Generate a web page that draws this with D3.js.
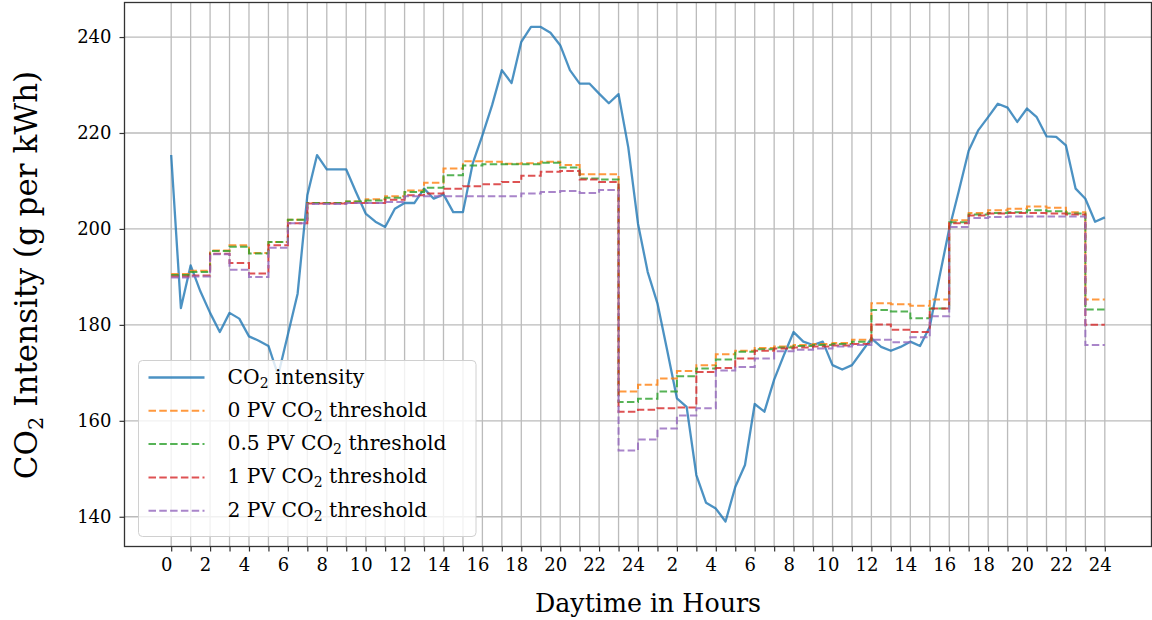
<!DOCTYPE html>
<html>
<head>
<meta charset="utf-8">
<script src="https://cdn.jsdelivr.net/npm/d3@7"></script>
<style>
  body { margin: 0; background: #fff; }
  svg text { font-family: "DejaVu Serif", serif; fill: #000; }
</style>
</head>
<body>
<div id="chart"></div>
<script>
// CO2 intensity, every half hour over two days (0 .. 48 h)
const intensity = [
  215.4, 183.5, 192.4, 187.0, 182.5, 178.5, 182.5, 181.3, 177.6, 176.7,
  175.6, 169.5, 178.0, 186.5, 207.0, 215.4, 212.4, 212.4, 212.4, 207.7,
  203.2, 201.5, 200.4, 204.2, 205.4, 205.4, 208.4, 206.3, 207.2, 203.5,
  203.5, 213.6, 219.5, 225.8, 233.1, 230.4, 239.0, 242.1, 242.1, 240.9,
  238.3, 233.1, 230.3, 230.3, 228.2, 226.2, 228.1, 217.0, 201.1, 191.0,
  184.5, 174.7, 164.7, 162.9, 148.7, 142.9, 141.7, 139.0, 146.2, 150.8,
  163.5, 161.9, 168.6, 173.7, 178.5, 176.5, 175.8, 176.5, 171.6, 170.7,
  171.6, 174.4, 177.2, 175.4, 174.6, 175.4, 176.5, 175.6, 179.6, 190.0,
  200.0, 208.0, 216.3, 220.6, 223.3, 226.1, 225.3, 222.3, 225.1, 223.3,
  219.3, 219.2, 217.4, 208.4, 206.3, 201.5, 202.4
];

// hourly thresholds (hour 0 .. 47), drawn as steps
const pv0 = [
  190.6, 191.3, 195.5, 196.6, 195.0, 197.3, 201.9, 205.4, 205.4, 205.7, 206.2, 206.8,
  208.0, 209.6, 212.6, 214.1, 214.0, 213.6, 213.7, 214.0, 213.3, 211.4, 211.4, 166.1,
  167.5, 168.8, 170.4, 171.6, 173.9, 174.6, 175.2, 175.5, 175.8, 176.0, 176.2, 176.9,
  184.5, 184.3, 184.0, 185.3, 201.8, 203.3, 203.9, 204.2, 204.7, 204.4, 203.5, 185.3
];
const pv05 = [
  190.4, 191.0, 195.4, 196.3, 194.9, 197.3, 201.9, 205.4, 205.4, 205.7, 205.9, 206.5,
  207.7, 208.6, 211.2, 213.2, 213.5, 213.5, 213.5, 213.8, 212.8, 210.5, 210.3, 163.9,
  164.6, 166.1, 169.3, 170.9, 172.8, 174.4, 174.9, 175.3, 175.6, 175.8, 176.0, 176.5,
  183.1, 182.8, 181.4, 183.4, 201.4, 203.0, 203.3, 203.5, 203.9, 203.7, 203.2, 183.2
];
const pv1 = [
  190.1, 190.3, 194.8, 192.9, 190.7, 196.6, 201.2, 205.3, 205.3, 205.4, 205.4, 206.1,
  207.0, 207.4, 208.4, 208.9, 209.3, 209.8, 211.1, 211.9, 212.1, 210.3, 209.8, 161.9,
  162.3, 162.6, 162.8, 170.2, 171.0, 173.0, 174.6, 175.1, 175.3, 175.5, 175.7, 176.0,
  180.1, 179.0, 178.5, 183.4, 201.2, 202.8, 203.2, 203.3, 203.3, 203.2, 203.0, 180.0
];
const pv2 = [
  189.9, 190.1, 194.7, 191.5, 190.0, 196.1, 201.2, 205.2, 205.2, 205.4, 205.4, 205.6,
  206.8, 206.8, 206.8, 206.8, 206.8, 206.8, 207.4, 207.7, 207.9, 207.5, 208.1, 153.8,
  156.1, 158.4, 161.1, 162.6, 170.5, 171.2, 173.0, 174.5, 174.8, 175.1, 175.5, 175.8,
  176.9, 176.4, 177.4, 181.8, 200.4, 202.3, 202.5, 202.6, 202.6, 202.6, 202.6, 175.8
];

const yTicks = [140, 160, 180, 200, 220, 240];

const series = [
  { name: "0 PV", values: pv0, color: "#ff7f0e" },
  { name: "0.5 PV", values: pv05, color: "#2ca02c" },
  { name: "1 PV", values: pv1, color: "#d62728" },
  { name: "2 PV", values: pv2, color: "#9467bd" }
];

const W = 1152, H = 620;
const m = { left: 124.5, right: 1151.5, top: 2.5, bottom: 546.5 };

const svg = d3.select("#chart").append("svg")
  .attr("width", W).attr("height", H);

const x = d3.scaleLinear().domain([-2.4, 50.4]).range([m.left, m.right]);
const y = d3.scaleLinear().domain([133.8, 247.2]).range([m.bottom, m.top]);

// grid
const grid = svg.append("g").attr("stroke", "#b0b0b0").attr("stroke-width", 1.3).attr("opacity", 0.85);
grid.selectAll(".vx").data(d3.range(0, 49)).enter().append("line")
  .attr("x1", d => x(d)).attr("x2", d => x(d))
  .attr("y1", m.top).attr("y2", m.bottom);
grid.selectAll(".hy").data(yTicks).enter().append("line")
  .attr("x1", m.left).attr("x2", m.right)
  .attr("y1", d => y(d)).attr("y2", d => y(d));

// axes
const xAxis = d3.axisBottom(x).tickValues(d3.range(0, 49)).tickSize(5).tickPadding(4)
  .tickFormat(d => (d % 2 === 0 ? String(d === 0 ? 0 : ((d - 1) % 24) + 1) : ""));
const gx = svg.append("g").attr("transform", `translate(0,${m.bottom})`).call(xAxis);
gx.selectAll("text").attr("font-size", 18).attr("dx", -5).attr("dy", "0.85em");

const yAxis = d3.axisLeft(y).tickValues(yTicks).tickSize(5).tickPadding(8);
const gy = svg.append("g").attr("transform", `translate(${m.left},0)`).call(yAxis);
gy.selectAll("text").attr("font-size", 18);

[gx, gy].forEach(g => {
  g.select(".domain").remove();
  g.selectAll(".tick line").attr("stroke", "#333").attr("stroke-width", 1.2);
  g.selectAll("text").attr("font-family", "Liberation Serif, serif").attr("fill", "#000");
});

// frame
svg.append("rect")
  .attr("x", m.left).attr("y", m.top)
  .attr("width", m.right - m.left).attr("height", m.bottom - m.top)
  .attr("fill", "none").attr("stroke", "#333").attr("stroke-width", 1.3);

// intensity line
const line = d3.line().x((d, i) => x(i * 0.5)).y(d => y(d));
svg.append("path").datum(intensity)
  .attr("d", line)
  .attr("fill", "none").attr("stroke", "#1f77b4").attr("stroke-opacity", 0.8)
  .attr("stroke-width", 2.3).attr("stroke-linejoin", "round");

// threshold steps
const step = d3.line().curve(d3.curveStepAfter).x((d, i) => x(i)).y(d => y(d));
series.forEach(s => {
  svg.append("path").datum(s.values.concat([s.values[s.values.length - 1]]))
    .attr("d", step)
    .attr("fill", "none").attr("stroke", s.color).attr("stroke-opacity", 0.8)
    .attr("stroke-width", 2).attr("stroke-dasharray", "7.5,3.3");
});

// legend
const lg = svg.append("g").attr("transform", "translate(138.5,360.5)");
lg.append("rect").attr("width", 337.5).attr("height", 176).attr("rx", 4)
  .attr("fill", "#fff").attr("fill-opacity", 0.8)
  .attr("stroke", "#d0d0d0").attr("stroke-width", 1);

const entries = [{ pre: "", color: "#1f77b4", dash: null, post: " intensity" }]
  .concat(series.map(s => ({ pre: s.name + " ", color: s.color, dash: "7.5,3.3", post: " threshold" })));

entries.forEach((e, i) => {
  const cy = 17 + i * 33.3;
  lg.append("line").attr("x1", 10).attr("x2", 66).attr("y1", cy).attr("y2", cy)
    .attr("stroke", e.color).attr("stroke-opacity", 0.8).attr("stroke-width", e.dash ? 2 : 2.3)
    .attr("stroke-dasharray", e.dash);
  const t = lg.append("text").attr("x", 89).attr("y", cy + 6).attr("font-size", 20.3);
  t.append("tspan").text(e.pre + "CO");
  t.append("tspan").text("2").attr("font-size", 14).attr("dy", 4);
  t.append("tspan").text(e.post).attr("dy", -4);
});

// axis labels
svg.append("text").attr("x", 648).attr("y", 612)
  .attr("text-anchor", "middle").attr("font-size", 25.3).text("Daytime in Hours");

const yl = svg.append("text").attr("transform", "translate(37,275) rotate(-90)")
  .attr("text-anchor", "middle").attr("font-size", 31);
yl.append("tspan").text("CO");
yl.append("tspan").text("2").attr("font-size", 21).attr("dy", 6);
yl.append("tspan").text(" Intensity (g per kWh)").attr("dy", -6);
</script>
</body>
</html>
